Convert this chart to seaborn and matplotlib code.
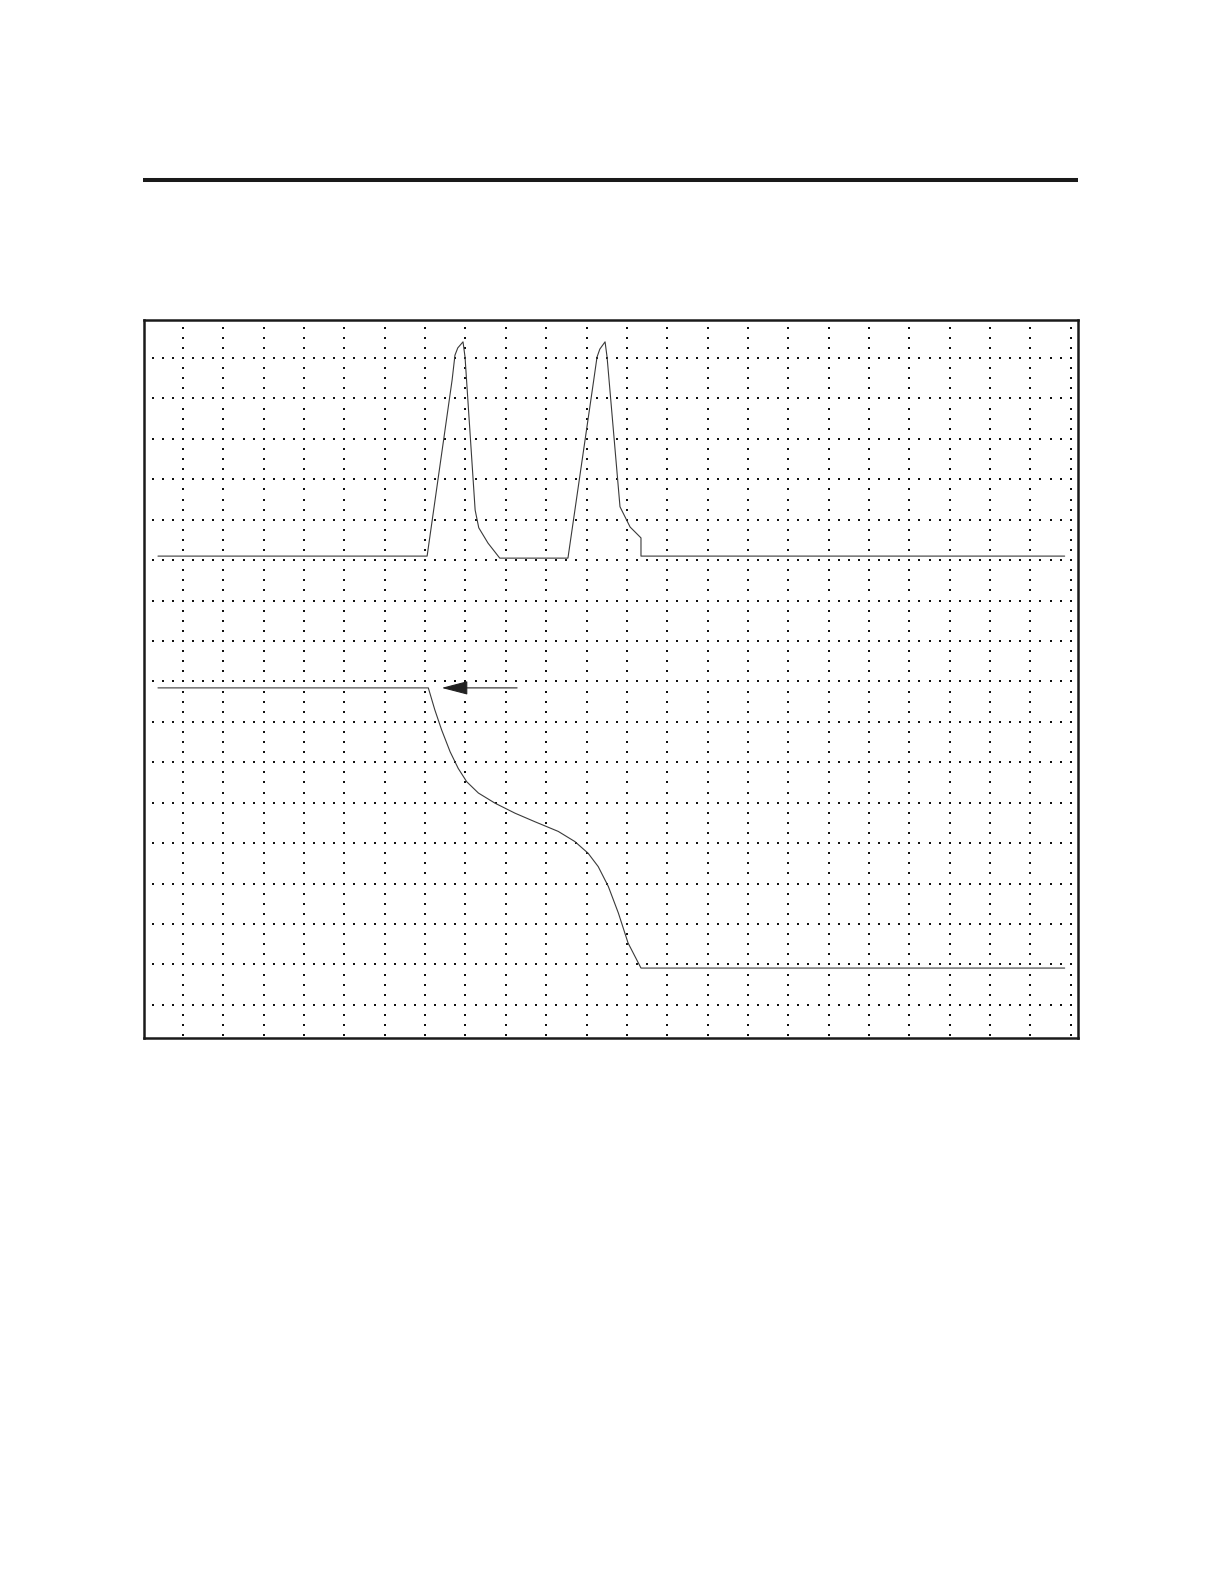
import numpy as np
import pandas as pd
import matplotlib
matplotlib.use("Agg")
import matplotlib.pyplot as plt
from matplotlib.lines import Line2D
import seaborn as sns

# ---- data (grid units: 1 unit = one grid cell) ----
upper_x = [-0.62, 6.05, 6.67, 6.74, 6.81, 6.94, 6.99, 7.24, 7.33, 7.56, 7.85,
           9.54, 10.18, 10.26, 10.33, 10.46, 10.51, 10.83, 11.08, 11.35, 11.35, 21.85]
upper_y = [11.10, 11.10, 15.46, 16.07, 16.25, 16.40, 16.02, 12.24, 11.80, 11.42, 11.05,
           11.05, 15.46, 16.02, 16.22, 16.40, 16.02, 12.32, 11.82, 11.55, 11.10, 11.10]

lower_x = [-0.62, 6.08, 6.24, 6.41, 6.62, 6.82, 7.03, 7.32, 7.73, 8.23, 8.72,
           9.30, 9.71, 10.04, 10.29, 10.54, 10.79, 11.03, 11.35, 21.85]
lower_y = [7.84, 7.84, 7.30, 6.80, 6.26, 5.85, 5.52, 5.24, 4.99, 4.74, 4.53,
           4.29, 4.04, 3.75, 3.42, 2.93, 2.27, 1.53, 0.91, 0.91]

arrow_tip = (6.41, 7.84)
arrow_tail = (8.28, 7.84)

grid_x = list(range(0, 23))
grid_y = list(range(0, 17))
x_limits = (-0.966, 22.18)
y_limits = (-0.82, 16.94)

# ---- figure ----
sns.set_style("white")
W, H = 1224, 1584
fig = plt.figure(figsize=(W / 100, H / 100), dpi=100)
ax = fig.add_axes([144 / W, 1 - 1038 / H, (1078 - 144) / W, (1038 - 320) / H])
ax.set_xlim(*x_limits)
ax.set_ylim(*y_limits)

# dotted grid (dots every quarter cell along each grid line)
qx = np.arange(np.ceil(x_limits[0] * 4) / 4, x_limits[1], 0.25)
qy = np.arange(np.ceil(y_limits[0] * 4) / 4, y_limits[1], 0.25)
vx, vy = np.meshgrid(grid_x, qy)
hx, hy = np.meshgrid(qx, grid_y)
dots_x = np.concatenate([vx.ravel(), hx.ravel()])
dots_y = np.concatenate([vy.ravel(), hy.ravel()])
ax.scatter(dots_x, dots_y, s=2.2, marker="s", color="#111111", linewidths=0, zorder=1)

df_u = pd.DataFrame({"x": upper_x, "y": upper_y})
df_l = pd.DataFrame({"x": lower_x, "y": lower_y})
sns.lineplot(data=df_u, x="x", y="y", sort=False, estimator=None, ax=ax,
             color="#3a3a3a", linewidth=0.8, zorder=3)
sns.lineplot(data=df_l, x="x", y="y", sort=False, estimator=None, ax=ax,
             color="#3a3a3a", linewidth=0.8, zorder=3)

ax.annotate("", xy=arrow_tip, xytext=arrow_tail,
            arrowprops=dict(arrowstyle="-|>,head_length=1.65,head_width=0.43",
                            mutation_scale=10, color="#222222", lw=0.8,
                            shrinkA=0, shrinkB=0), zorder=4)

ax.set_xlabel("")
ax.set_ylabel("")
ax.set_xticks([])
ax.set_yticks([])
for sp in ax.spines.values():
    sp.set_visible(True)
    sp.set_linewidth(1.8)
    sp.set_color("#1a1a1a")

# heavy rule at top of page
fig.add_artist(Line2D([143 / W, 1078 / W], [1 - 180 / H, 1 - 180 / H],
                      transform=fig.transFigure, color="#1a1a1a", linewidth=2.9,
                      solid_capstyle="butt"))

fig.savefig("out.png", dpi=100)
